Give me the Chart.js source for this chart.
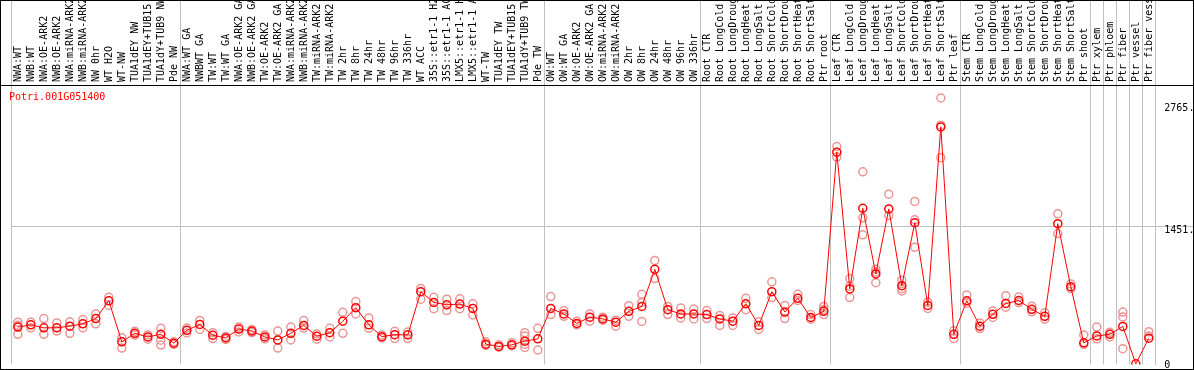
<!DOCTYPE html>
<html>
<head>
<meta charset="utf-8">
<script src="https://cdn.jsdelivr.net/npm/chart.js@4/dist/chart.umd.min.js"></script>
<style>
  body { margin: 0; background: #fff; }
  canvas { display: block; }
</style>
</head>
<body>
<canvas id="chart" width="1194" height="370"></canvas>
<script>
const geneId = 'Potri.001G051400';

const samples = [
  'NWA:WT', 'NWB:WT', 'NWA:OE-ARK2', 'NWB:OE-ARK2', 'NWA:miRNA-ARK2', 'NWB:miRNA-ARK2',
  'NW 0hr', 'WT H2O', 'WT-NW', 'TUA1dEY NW', 'TUA1dEY+TUB15 NW', 'TUA1dY+TUB9 NW', 'Pde NW',
  'NWA:WT GA', 'NWBWT GA', 'TW:WT', 'TW:WT GA', 'NWA:OE-ARK2 GA', 'NWB:OE-ARK2 GA',
  'TW:OE-ARK2', 'TW:OE-ARK2 GA', 'NWA:miRNA-ARK2 GA', 'NWB:miRNA-ARK2 GA', 'TW:miRNA-ARK2',
  'TW:miRNA-ARK2 GA', 'TW 2hr', 'TW 8hr', 'TW 24hr', 'TW 48hr', 'TW 96hr', 'TW 336hr',
  'WT ACC', '35S::etr1-1 H2O', '35S::etr1-1 ACC', 'LMX5::etr1-1 H2O', 'LMX5::etr1-1 ACC',
  'WT-TW', 'TUA1dEY TW', 'TUA1dEY+TUB15 TW', 'TUA1dY+TUB9 TW', 'Pde TW',
  'OW:WT', 'OW:WT GA', 'OW:OE-ARK2', 'OW:OE-ARK2 GA', 'OW:miRNA-ARK2', 'OW:miRNA-ARK2 GA',
  'OW 2hr', 'OW 8hr', 'OW 24hr', 'OW 48hr', 'OW 96hr', 'OW 336hr',
  'Root CTR', 'Root LongCold', 'Root LongDrought', 'Root LongHeat', 'Root LongSalt',
  'Root ShortCold', 'Root ShortDrought', 'Root ShortHeat', 'Root ShortSalt', 'Ptr root',
  'Leaf CTR', 'Leaf LongCold', 'Leaf LongDrought', 'Leaf LongHeat', 'Leaf LongSalt',
  'Leaf ShortCold', 'Leaf ShortDrought', 'Leaf ShortHeat', 'Leaf ShortSalt', 'Ptr leaf',
  'Stem CTR', 'Stem LongCold', 'Stem LongDrought', 'Stem LongHeat', 'Stem LongSalt',
  'Stem ShortCold', 'Stem ShortDrought', 'Stem ShortHeat', 'Stem ShortSalt', 'Ptr shoot',
  'Ptr xylem', 'Ptr phloem', 'Ptr fiber', 'Ptr vessel', 'Ptr fiber vessel'
];

// sample groups, separated by grey vertical lines
const groupSizes = [13, 28, 12, 10, 10, 10, 1, 1, 1, 1, 1];

const meanValues = [
  366, 390, 358, 358, 376, 401, 458, 649, 207, 299, 260, 288, 193,
  331, 394, 278, 249, 345, 323, 260, 228, 299, 384, 267, 305, 429, 575, 390, 263, 284, 282,
  747, 631, 606, 613, 567, 182, 157, 175, 214, 239,
  567, 507, 405, 472, 454, 419, 535, 588, 988, 553, 507, 507,
  500, 454, 429, 617, 384, 747, 528, 676, 469, 535,
  2249, 776, 1645, 938, 1638, 811, 1489, 599, 2521, 288,
  649, 376, 503, 620, 652, 557, 482, 1479, 800, 196,
  270, 288, 373, -30, 246
];

const rep1 = [
  419, 419, 458, 411, 422, 447, 507, 687, 252, 320, 281, 352, 207,
  355, 437, 305, 265, 366, 339, 281, 323, 366, 437, 292, 352, 525, 641, 464, 281, 320, 313,
  782, 687, 666, 670, 617, 207, 175, 196, 305, 352,
  694, 543, 429, 507, 472, 440, 596, 719, 1083, 588, 570, 560,
  543, 490, 464, 676, 422, 853, 599, 719, 500, 588,
  2309, 888, 2037, 988, 1797, 871, 1719, 634, 2832, 326,
  712, 410, 540, 704, 690, 590, 520, 1585, 830, 281,
  366, 310, 528, null, 316
];

const rep2 = [
  288, 358, 288, 323, 299, 358, 401, 599, 140, 280, 235, 225, 180,
  302, 341, 242, 233, 313, 307, 239, 140, 228, 355, 235, 260, 299, 507, 352, 249, 242, 242,
  666, 564, 543, 564, 496, 170, 150, 165, 146, 119,
  500, 482, 390, 429, 440, 376, 482, 426, 888, 500, 464, 454,
  458, 384, 384, 553, 341, 684, 458, 652, 450, 500,
  2196, 684, 1359, 843, 1567, 755, 1224, 567, 2189, 242,
  623, 350, 470, 580, 630, 530, 450, 1373, 780, 180,
  240, 260, 133, null, 270
];

const rep3 = [
  385, null, null, null, null, null, null, null, null, null, null, 172, null,
  null, null, null, null, null, null, null, null, null, null, null, null, null, null, null, null, null, null,
  null, null, null, null, null, null, null, null, 270, null,
  null, null, null, null, null, null, null, 631, null, null, null, null,
  null, null, null, null, null, null, null, null, null, 556,
  null, 806, 1542, 959, null, 779, 1521, null, 2539, null,
  null, null, null, null, null, null, null, null, null, null,
  null, null, 475, null, null
];

const rep4 = [
  null, null, null, null, null, null, null, null, null, null, null, null, null,
  null, null, null, null, null, null, null, null, null, null, null, null, null, null, null, null, null, null,
  null, null, null, null, null, null, null, null, 182, null,
  null, null, null, null, null, null, null, null, null, null, null, null,
  null, null, null, null, null, null, null, null, null, null,
  null, null, null, null, null, null, null, null, null, null,
  null, null, null, null, null, null, null, null, null, null,
  null, null, null, null, null
];

const yTicks = [0, 1451, 2765];
const yTickLabels = ['0', '1451.', '2765.'];

const bounds = new Set([0]);
let acc = 0;
groupSizes.forEach(n => { acc += n; bounds.add(acc); });

const GREY = '#c0c0c0';
const NONE = 'rgba(0,0,0,0)';

Chart.defaults.font.family = 'DejaVu Sans Mono';
Chart.defaults.font.size = 10;
Chart.defaults.color = '#000';

const frame = {
  id: 'frame',
  afterDraw(chart) {
    const { ctx, chartArea } = chart;
    ctx.save();
    ctx.strokeStyle = '#000';
    ctx.lineWidth = 1;
    ctx.strokeRect(0.5, 0.5, chart.width - 1, chart.height - 1);
    const y = Math.round(chartArea.top - 0.5) + 0.5;
    ctx.beginPath();
    ctx.moveTo(0, y);
    ctx.lineTo(chart.width, y);
    ctx.stroke();
    ctx.fillStyle = '#ff0000';
    ctx.font = '10px "DejaVu Sans Mono"';
    ctx.textBaseline = 'middle';
    ctx.fillText(geneId, 9, 97);
    ctx.restore();
  }
};

const repStyle = {
  showLine: false,
  borderColor: '#eb9696',
  backgroundColor: NONE,
  pointRadius: 4,
  pointBorderWidth: 1.5
};

new Chart(document.getElementById('chart'), {
  type: 'line',
  data: {
    labels: samples,
    datasets: [
      {
        data: meanValues,
        borderColor: '#ff0000',
        borderWidth: 1,
        backgroundColor: NONE,
        pointRadius: 4,
        pointBorderWidth: 1.5,
        tension: 0
      },
      { data: rep1, ...repStyle },
      { data: rep2, ...repStyle },
      { data: rep3, ...repStyle },
      { data: rep4, ...repStyle }
    ]
  },
  options: {
    responsive: false,
    animation: false,
    layout: { padding: { left: 11.3, right: 0, top: 0, bottom: 1 } },
    plugins: { legend: { display: false }, tooltip: { enabled: false } },
    scales: {
      x: {
        position: 'top',
        offset: true,
        grid: {
          offset: true,
          tickLength: 85,
          color: ctx => (ctx.index === undefined || bounds.has(ctx.index)) ? GREY : NONE
        },
        border: { display: true, color: '#000' },
        ticks: {
          autoSkip: false,
          minRotation: 90,
          maxRotation: 90,
          padding: -82,
          labelOffset: 13
        },
        afterFit: s => {
          s.height = 85;
          s.paddingLeft = 0;
          s.paddingRight = 0;
        }
      },
      y: {
        position: 'right',
        min: -37,
        max: 2972,
        afterBuildTicks: s => { s.ticks = yTicks.map(v => ({ value: v })); },
        grid: {
          tickLength: 38,
          color: ctx => (ctx.tick && ctx.tick.value === 1451) ? GREY : NONE
        },
        border: { display: true, color: GREY },
        ticks: {
          padding: -29,
          labelOffset: ctx => (ctx.tick && ctx.tick.value === 0) ? -3 : 4,
          callback: v => yTickLabels[yTicks.indexOf(v)]
        },
        afterFit: s => {
          s.width = 38.7;
          s.paddingTop = 0;
          s.paddingBottom = 0;
        }
      }
    }
  },
  plugins: [frame]
});
</script>
</body>
</html>
